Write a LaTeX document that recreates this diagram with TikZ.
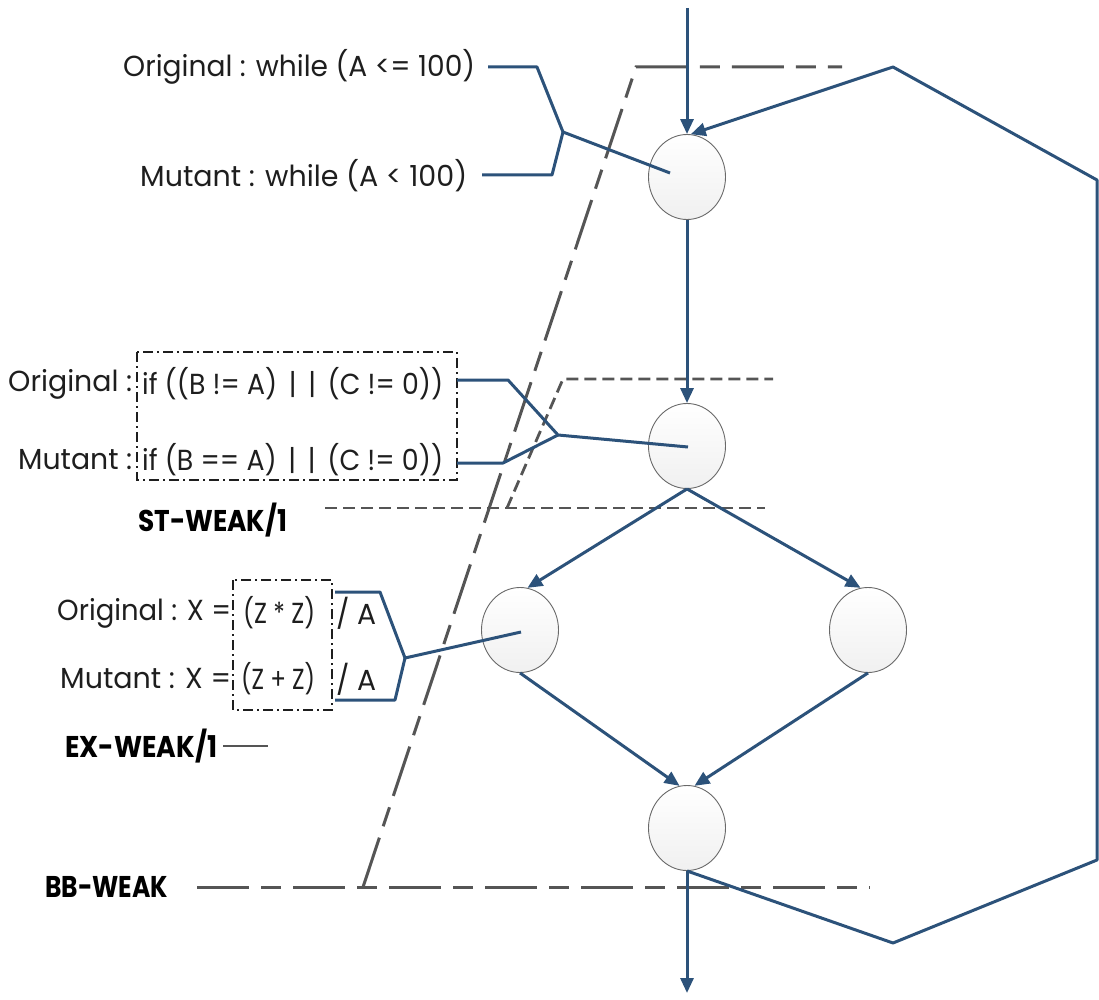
\documentclass[tikz,border=0pt]{standalone}
\usepackage{fontspec}
\setmainfont{Poppins}
\usepackage{graphicx}
\usetikzlibrary{arrows.meta,shapes.geometric}

\definecolor{flow}{RGB}{44,82,122}
\definecolor{dgray}{RGB}{85,85,85}
\definecolor{txtc}{RGB}{30,30,30}
\definecolor{cfill}{RGB}{240,240,240}
\definecolor{cline}{RGB}{105,105,105}

% scale text horizontally only, to a given width
\newcommand{\fitx}[2]{\resizebox{#1}{\height}{#2}}

\begin{document}
\begin{tikzpicture}[x=1pt,y=-1pt,
  state/.style={ellipse, minimum width=77pt, minimum height=85pt, inner sep=0pt,
    draw=cline, line width=0.9pt, top color=white, bottom color=cfill},
  flowline/.style={draw=flow, line width=3pt, line join=round},
  flowarr/.style={flowline, -{Triangle[length=15pt,width=13pt]}},
  lbl/.style={inner sep=0pt, anchor=west, text=txtc, font=\fontsize{29}{33}\selectfont},
  weak/.style={inner sep=0pt, anchor=west, text=black, font=\bfseries\fontsize{30}{34}\selectfont},
  bbline/.style={draw=dgray, line width=3pt, dash pattern=on 52pt off 12pt on 20pt off 12pt},
  stline/.style={draw=dgray, line width=2.8pt, dash pattern=on 12pt off 6pt},
  dbox/.style={draw=txtc, line width=1.3pt, dash pattern=on 10pt off 4pt on 2pt off 4pt}
]
\useasboundingbox (0,0) rectangle (1099,1000);

% ---------- coordinates ----------
\coordinate (bbA) at (197,887);
\coordinate (bbB) at (870,887);
\coordinate (bbC) at (363,887);
\coordinate (bbD) at (636,67);
\coordinate (bbE) at (842,67);
\coordinate (stA) at (325,508);
\coordinate (stB) at (765,508);
\coordinate (stC) at (507,508);
\coordinate (stD) at (563,379);
\coordinate (stE) at (773,379);
\coordinate (exA) at (223,746);
\coordinate (exB) at (268,746);

% ---------- weak-mutation boundaries ----------
\draw[bbline] (bbA) -- (bbB);
\draw[bbline] (bbC) -- (bbD) -- (bbE);
\draw[stline] (stA) -- (stB);
\draw[stline] (stC) -- (stD) -- (stE);
\draw[draw=dgray, line width=2.8pt] (exA) -- (exB);

% ---------- dash-dot boxes ----------
\draw[dbox] (137,352) rectangle (457,480);
\draw[dbox] (233,580) rectangle (332,710);

% ---------- states ----------
\node[state] (c1) at (687,177) {};
\node[state] (c2) at (687,446) {};
\node[state] (c3) at (520,630) {};
\node[state] (c4) at (868,630) {};
\node[state] (c5) at (687,828) {};

% ---------- texts ----------
\node[lbl] (o1) at (123,67) {\fitx{352pt}{Original : while (A <= 100)}};
\node[lbl] (m1) at (140,176) {\fitx{327pt}{Mutant : while (A < 100)}};
\node[lbl] (o2l) at (8,384) {\fitx{124pt}{Original :}};
\node[lbl] (o2c) at (142,384) {\fitx{301pt}{if ((B != A)\, |\, |\, (C != 0))}};
\node[lbl] (m2l) at (18,460) {\fitx{114pt}{Mutant :}};
\node[lbl] (m2c) at (142,460) {\fitx{301pt}{if (B == A)\, |\, |\, (C != 0))}};
\node[weak] (st) at (138,520) {\fitx{149pt}{ST-WEAK/1}};
\node[lbl] (o3l) at (57,613) {\fitx{174pt}{Original : X =}};
\node[lbl] (o3c) at (243,613) {\fitx{72pt}{(Z * Z)}};
\node[lbl] (o3r) at (336,613) {\fitx{40pt}{/ A}};
\node[lbl] (m3l) at (60,679) {\fitx{171pt}{Mutant : X =}};
\node[lbl] (m3c) at (241,679) {\fitx{74pt}{(Z + Z)}};
\node[lbl] (m3r) at (336,679) {\fitx{40pt}{/ A}};
\node[weak] (ex) at (65,746) {\fitx{152pt}{EX-WEAK/1}};
\node[weak] (bb) at (45,887) {\fitx{123pt}{BB-WEAK}};

% ---------- mutation connectors ----------
\coordinate (p1a) at (488,67);
\coordinate (p1b) at (537,67);
\coordinate (j1)  at (563,132);
\coordinate (p1c) at (482,175);
\coordinate (p1d) at (552,175);
\coordinate (e1)  at (670,173);
\draw[flowline] (p1a) -- (p1b) -- (j1) -- (e1);
\draw[flowline] (p1c) -- (p1d) -- (j1);

\coordinate (p2a) at (457,380);
\coordinate (p2b) at (508,380);
\coordinate (j2)  at (558,435);
\coordinate (p2c) at (457,463);
\coordinate (p2d) at (503,463);
\coordinate (e2)  at (688,447);
\draw[flowline] (p2a) -- (p2b) -- (j2) -- (e2);
\draw[flowline] (p2c) -- (p2d) -- (j2);

\coordinate (p3a) at (335,592);
\coordinate (p3b) at (380,592);
\coordinate (j3)  at (405,658);
\coordinate (p3c) at (335,700);
\coordinate (p3d) at (395,700);
\coordinate (e3)  at (521,632);
\draw[flowline] (p3a) -- (p3b) -- (j3) -- (e3);
\draw[flowline] (p3c) -- (p3d) -- (j3);

% ---------- control flow ----------
\coordinate (in)  at (687,8);
\coordinate (out) at (687,993);
\coordinate (l1) at (893,943);
\coordinate (l2) at (1097,860);
\coordinate (l3) at (1097,180);
\coordinate (l4) at (893,67);

\draw[flowarr] (in) -- (c1.north);
\draw[flowarr] (c1.south) -- (c2.north);
\draw[flowarr] (c2.south) -- (c3.80);
\draw[flowarr] (c2.south) -- (c4.100);
\draw[flowarr] (c3.south) -- (c5.100);
\draw[flowarr] (c4.south) -- (c5.80);
\draw[flowarr] (c5.south) -- (out);
\draw[flowarr] (c5.south) -- (l1) -- (l2) -- (l3) -- (l4) -- (c1.85);
\end{tikzpicture}
\end{document}
